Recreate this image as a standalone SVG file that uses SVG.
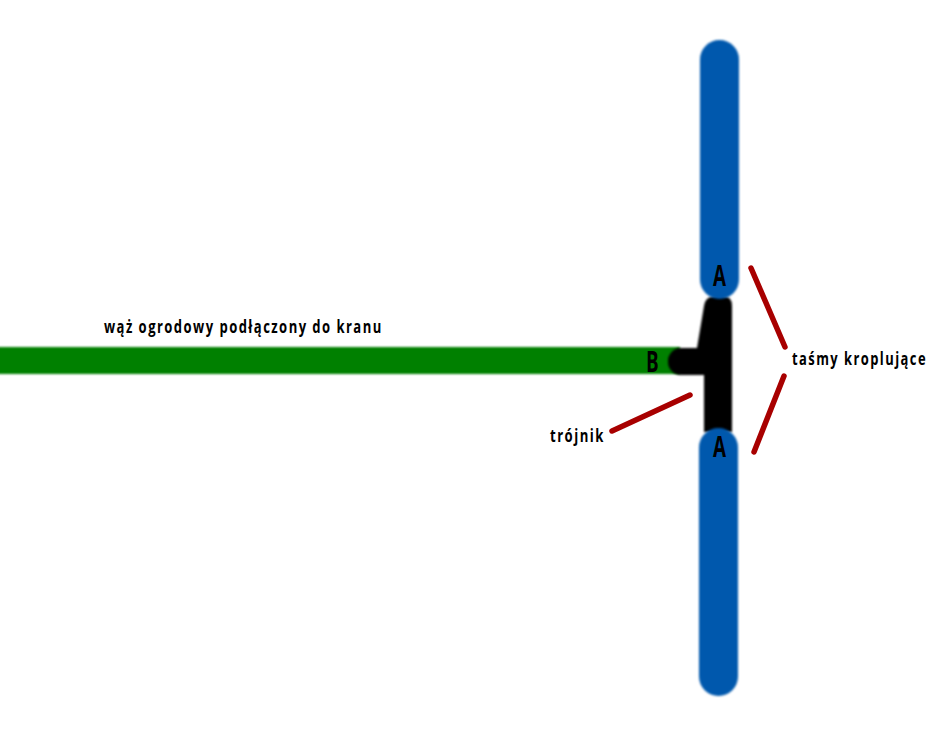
<svg xmlns="http://www.w3.org/2000/svg" width="951" height="738" viewBox="0 0 951 738">
<defs><filter id="soft" x="-10%" y="-10%" width="120%" height="120%"><feGaussianBlur stdDeviation="1"/></filter>
<filter id="softer" filterUnits="userSpaceOnUse" x="600" y="260" width="200" height="200"><feGaussianBlur stdDeviation="0.6"/></filter></defs>
<style>
text{font-family:"Open Sans","Noto Sans",sans-serif;font-weight:700;fill:#000}
.l{font-size:18px;letter-spacing:2px}
.b{font-size:29px}
.r{fill:none;stroke:#a80000;stroke-width:5.500;stroke-linecap:round;filter:url(#softer)}
.s{filter:url(#soft)}
</style>
<rect width="951" height="738" fill="#fff"/>
<g id="hose"><rect class="s" x="-5" y="347" width="685" height="27" fill="#008000"/></g>
<g id="tee"><path class="s" d="M668 362a13 13 0 0 1 13-14h16l7-42q1-9 10-10h9q9 0 9 10v126h-28v-57h-23a13 13 0 0 1-13-13z" fill="#000"/></g>
<g id="tape-top"><rect class="s" x="700" y="40" width="39" height="259" rx="19.500" fill="#0059ad"/></g>
<g id="tape-bottom"><rect class="s" x="699" y="428" width="39" height="268" rx="19.500" fill="#0059ad"/></g>
<g id="connectors">
<path class="r" d="M751 268 785 347M784 376 754 452M690 395 612 431"/>
</g>
<g id="labels">
<text class="l" transform="translate(104 333) scale(.725 1)">wąż ogrodowy podłączony do kranu</text>
<text class="l" transform="translate(792 365) scale(.72 1)">taśmy kroplujące</text>
<text class="l" transform="translate(550 442) scale(.73 1)">trójnik</text>
<text class="b" transform="translate(713 286) scale(.65 1)">A</text>
<text class="b" transform="translate(713 457) scale(.65 1)">A</text>
<text class="b" transform="translate(646 372) scale(.65 1)">B</text>
</g>
</svg>
